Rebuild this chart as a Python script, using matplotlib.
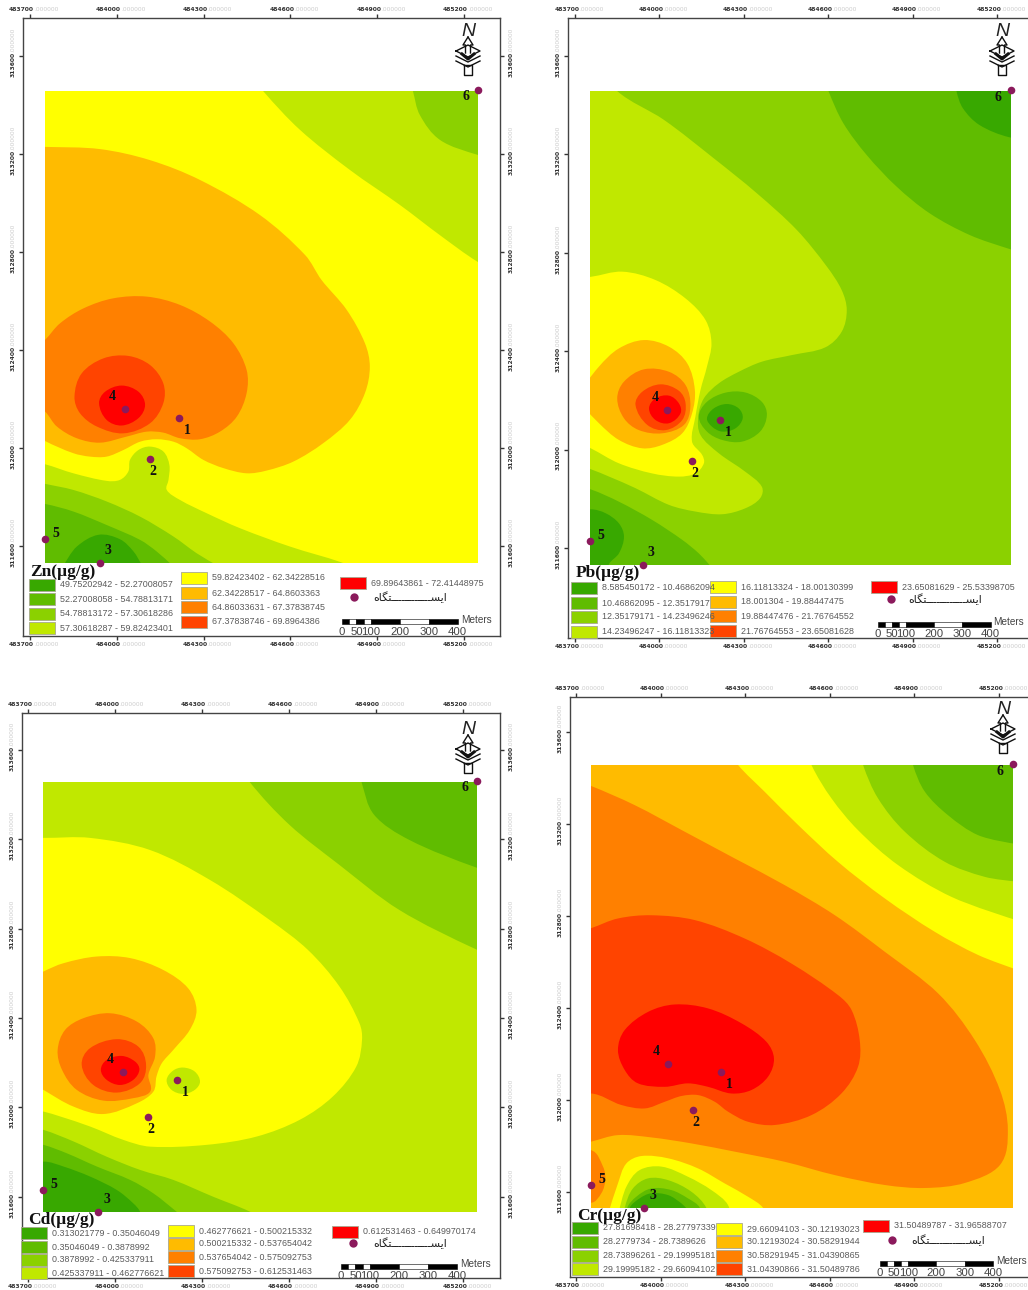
import math
import matplotlib
matplotlib.use('Agg')
import matplotlib.pyplot as plt
from matplotlib.patches import PathPatch, Rectangle
from matplotlib.path import Path
from matplotlib.lines import Line2D

W, H = 1028, 1290

# class colours, lowest to highest
class_colors = ['#38A800', '#60BC00', '#8BD100', '#C0E800', '#FFFF00',
                '#FFBB00', '#FF8000', '#FF4400', '#FF0000']

# interpolated area (UTM metres)
east_min, east_max = 483752, 485249
north_min, north_max = 311531, 313457

# out-of-area points used to close the class polygons
SW = (483650, 311430)
SE = (485350, 311430)
NE = (485350, 313560)
NW = (483650, 313560)

station_ids = ['1', '2', '3', '4', '5', '6']
station_east = [484215, 484115, 483942, 484028, 483752, 485249]
station_north = [312122, 311955, 311531, 312159, 311629, 313461]
station_offset = [(6, -9), (2, -9), (6, 9), (-9, 9), (8, 4), (-9, -5)]

x_ticks = [483700, 484000, 484300, 484600, 484900, 485200]
y_ticks = [311600, 312000, 312400, 312800, 313200, 313600]
scale_marks = [0, 25, 50, 75, 100, 200, 300, 400]
scale_labels = [0, 50, 100, 200, 300, 400]
station_word = '\uFEE9\uFE8E\uFB95\uFE98' + '\u0640' * 12 + '\uFEB4\uFBFE\uFE8D'

zn_labels = ['49.75202942 - 52.27008057', '52.27008058 - 54.78813171', '54.78813172 - 57.30618286',
             '57.30618287 - 59.82423401', '59.82423402 - 62.34228516', '62.34228517 - 64.8603363',
             '64.86033631 - 67.37838745', '67.37838746 - 69.8964386', '69.89643861 - 72.41448975']
pb_labels = ['8.585450172 - 10.46862094', '10.46862095 - 12.3517917', '12.35179171 - 14.23496246',
             '14.23496247 - 16.11813323', '16.11813324 - 18.00130399', '18.001304 - 19.88447475',
             '19.88447476 - 21.76764552', '21.76764553 - 23.65081628', '23.65081629 - 25.53398705']
cd_labels = ['0.313021779 - 0.35046049', '0.35046049 - 0.3878992', '0.3878992 - 0.425337911',
             '0.425337911 - 0.462776621', '0.462776621 - 0.500215332', '0.500215332 - 0.537654042',
             '0.537654042 - 0.575092753', '0.575092753 - 0.612531463', '0.612531463 - 0.649970174']
cr_labels = ['27.81698418 - 28.27797339', '28.2779734 - 28.7389626', '28.73896261 - 29.19995181',
             '29.19995182 - 29.66094102', '29.66094103 - 30.12193023', '30.12193024 - 30.58291944',
             '30.58291945 - 31.04390865', '31.04390866 - 31.50489786', '31.50489787 - 31.96588707']

# class boundaries: (class index, [(east, north), ...]), painted in order
zn_base = 4
zn_bands = [
    (3, [(484440, 313560), (484506, 313457), (484634, 313298), (484806, 313135), (484979, 312992),
         (485117, 312869), (485249, 312759), (485350, 312700), NE]),
    (2, [(485000, 313560), (485024, 313457), (485048, 313359), (485118, 313257), (485249, 313196),
         (485350, 313170), NE]),
    (3, [(483650, 311960), (483752, 311934), (483850, 311897), (483965, 311866), (484011, 311870),
         (484040, 311904), (484046, 311952), (484075, 311992), (484115, 312006), (484161, 311986),
         (484182, 311931), (484179, 311870), (484173, 311829), (484219, 311788), (484311, 311734),
         (484426, 311673), (484599, 311598), (484778, 311533), (484860, 311490), (484860, 311430), SW]),
    (2, [(483650, 311880), (483752, 311854), (483850, 311829), (483965, 311782), (484081, 311720),
         (484196, 311639), (484276, 311571), (484334, 311530), (484400, 311480), (484400, 311430), SW]),
    (1, [(483650, 311790), (483752, 311772), (483850, 311741), (483965, 311686), (484081, 311625),
         (484138, 311578), (484184, 311530), (484230, 311480), (484230, 311430), SW]),
    (0, [(483800, 311430), (483821, 311530), (483862, 311598), (483937, 311646), (484011, 311628),
         (484058, 311578), (484083, 311530), (484110, 311430)]),
    (5, [(483650, 313230), (483752, 313229), (483942, 313220), (484115, 313175), (484288, 313094),
         (484495, 312951), (484651, 312788), (484708, 312686), (484795, 312564), (484858, 312428),
         (484875, 312332), (484858, 312224), (484806, 312115), (484714, 312020), (484611, 311945),
         (484518, 311908), (484449, 311897), (484369, 311918), (484299, 311952), (484242, 311999),
         (484196, 312026), (484138, 312036), (484081, 312026), (484023, 311992), (483965, 311965),
         (483908, 311965), (483850, 311979), (483752, 312029), (483650, 312100)]),
    (6, [(483650, 312330), (483752, 312441), (483804, 312509), (483885, 312570), (483988, 312611),
         (484104, 312618), (484219, 312584), (484323, 312516), (484403, 312428), (484449, 312319),
         (484449, 312224), (484415, 312128), (484357, 312067), (484288, 312036), (484219, 312040),
         (484161, 312063), (484104, 312067), (484035, 312047), (483942, 312022), (483862, 312040),
         (483793, 312088), (483752, 312149), (483650, 312240)]),
    (7, [(483854, 312210), (483879, 312305), (483954, 312366), (484040, 312376), (484115, 312339),
         (484161, 312264), (484161, 312183), (484115, 312101), (484023, 312060), (483931, 312088),
         (483873, 312142)]),
    (8, [(483939, 312183), (483960, 312230), (484017, 312255), (484075, 312230), (484098, 312176),
         (484075, 312122), (484017, 312092), (483965, 312115)]),
]

pb_base = 2
pb_bands = [
    (1, [(484570, 313560), (484601, 313457), (484654, 313326), (484737, 313197), (484843, 313069),
         (484961, 312960), (485103, 312872), (485245, 312815), (485350, 312780), NE]),
    (0, [(485040, 313560), (485056, 313457), (485079, 313387), (485138, 313319), (485245, 313269),
         (485350, 313260), NE]),
    (3, [(483800, 313560), (483850, 313457), (484016, 313340), (484193, 313184), (484346, 313042),
         (484488, 312893), (484595, 312744), (484648, 312648), (484666, 312567), (484648, 312479),
         (484589, 312415), (484471, 312384), (484364, 312357), (484282, 312316), (484211, 312269),
         (484158, 312208), (484138, 312134), (484146, 312059), (484211, 311985), (484305, 311910),
         (484364, 311849), (484358, 311802), (484305, 311761), (484223, 311737), (484128, 311748),
         (484034, 311775), (483915, 311843), (483821, 311890), (483756, 311920), (483650, 311960), NW]),
    (1, [(483650, 311870), (483756, 311838), (483856, 311788), (483974, 311714), (484081, 311633),
         (484140, 311578), (484175, 311535), (484220, 311480), (484220, 311430), SW]),
    (0, [(483650, 311740), (483756, 311757), (483809, 311741), (483856, 311700), (483874, 311646),
         (483856, 311578), (483821, 311535), (483790, 311430), SW]),
    (1, [(484140, 312134), (484169, 312194), (484234, 312231), (484305, 312232), (484364, 312194),
         (484382, 312140), (484358, 312073), (484293, 312032), (484223, 312039), (484169, 312073)]),
    (0, [(484169, 312127), (484193, 312167), (484240, 312185), (484282, 312167), (484296, 312127),
         (484270, 312086), (484223, 312073), (484187, 312093)]),
    (4, [(483650, 312690), (483756, 312702), (483868, 312723), (483986, 312689), (484093, 312614),
         (484164, 312526), (484185, 312432), (484169, 312337), (484146, 312242), (484128, 312134),
         (484116, 312032), (484152, 311978), (484158, 311944), (484128, 311903), (484069, 311890),
         (483974, 311903), (483856, 311944), (483756, 312005), (483650, 312060)]),
    (5, [(483700, 312210), (483785, 312337), (483856, 312411), (483945, 312445), (484034, 312418),
         (484099, 312350), (484126, 312242), (484116, 312147), (484081, 312066), (484010, 312019),
         (483939, 312005), (483856, 312039), (483785, 312107)]),
    (6, [(483850, 312208), (483874, 312276), (483945, 312326), (484034, 312316), (484093, 312262),
         (484110, 312174), (484087, 312100), (484010, 312066), (483927, 312079), (483874, 312127)]),
    (7, [(483915, 312181), (483939, 312235), (484004, 312265), (484069, 312239), (484093, 312188),
         (484081, 312120), (484022, 312079), (483957, 312100)]),
    (8, [(483963, 312167), (483986, 312208), (484034, 312219), (484069, 312188), (484075, 312147),
         (484034, 312107), (483986, 312120)]),
]

cd_base = 3
cd_bands = [
    (2, [(484420, 313560), (484464, 313457), (484602, 313264), (484774, 313085), (484980, 312884),
         (485249, 312705), (485350, 312660), NE]),
    (1, [(484830, 313560), (484850, 313457), (484894, 313309), (485015, 313197), (485249, 313072),
         (485350, 313040), NE]),
    (4, [(483650, 313210), (483752, 313206), (483914, 313206), (484120, 313152), (484327, 313018),
         (484533, 312839), (484665, 312705), (484774, 312541), (484843, 312377), (484852, 312302),
         (484832, 312182), (484751, 312048), (484637, 311944), (484488, 311869), (484316, 311832),
         (484121, 311824), (484029, 311854), (483914, 311914), (483811, 311959), (483753, 311981),
         (483650, 312010)]),
    (3, [(484178, 312123), (484201, 312165), (484235, 312178), (484275, 312160), (484293, 312115),
         (484275, 312078), (484235, 312060), (484195, 312078)]),
    (2, [(483650, 311930), (483753, 311899), (483857, 311847), (483971, 311779), (484086, 311720),
         (484201, 311675), (484338, 311600), (484465, 311533), (484530, 311480), (484530, 311430), SW]),
    (1, [(483650, 311860), (483753, 311832), (483834, 311794), (483937, 311735), (484052, 311675),
         (484132, 311615), (484212, 311533), (484260, 311480), (484260, 311430), SW]),
    (0, [(483650, 311730), (483753, 311757), (483822, 311735), (483914, 311690), (484006, 311630),
         (484063, 311570), (484086, 311533), (484110, 311430), SW]),
    (5, [(483650, 312540), (483753, 312608), (483822, 312645), (483937, 312675), (484052, 312668),
         (484166, 312615), (484252, 312533), (484281, 312436), (484258, 312347), (484201, 312257),
         (484161, 312197), (484143, 312138), (484132, 312070), (484075, 312018), (483960, 311970),
         (483857, 312003), (483753, 312078), (483650, 312160)]),
    (6, [(483802, 312257), (483828, 312347), (483891, 312399), (483983, 312421), (484075, 312384),
         (484132, 312309), (484138, 312227), (484115, 312145), (484121, 312070), (484063, 312041),
         (483960, 312030), (483868, 312078), (483817, 312168)]),
    (7, [(483885, 312190), (483914, 312265), (484006, 312305), (484080, 312272), (484107, 312190),
         (484086, 312108), (484006, 312066), (483925, 312100)]),
    (8, [(483951, 312168), (483971, 312212), (484023, 312230), (484069, 312205), (484084, 312168),
         (484063, 312123), (484017, 312100), (483971, 312123)]),
]

cr_base = 5
cr_bands = [
    (4, [(484220, 313560), (484275, 313457), (484369, 313341), (484488, 313196), (484629, 313036),
         (484795, 312877), (484972, 312732), (485126, 312631), (485250, 312573), (485350, 312540), NE]),
    (3, [(484510, 313560), (484535, 313457), (484606, 313312), (484700, 313174), (484842, 313022),
         (485031, 312884), (485250, 312787), (485350, 312750), NE]),
    (2, [(484700, 313560), (484718, 313457), (484771, 313312), (484866, 313167), (485008, 313036),
         (485149, 312971), (485250, 312952), (485350, 312940), NE]),
    (1, [(484880, 313560), (484895, 313457), (484937, 313341), (485019, 313239), (485126, 313152),
         (485250, 313116), (485350, 313100), NE]),
    (6, [(483650, 313410), (483752, 313367), (483908, 313283), (484086, 313167), (484263, 313051),
         (484440, 312935), (484618, 312804), (484795, 312645), (484984, 312464), (485114, 312261),
         (485203, 312044), (485231, 311870), (485203, 311718), (485079, 311640), (484937, 311618),
         (484795, 311631), (484618, 311674), (484440, 311732), (484263, 311776), (484109, 311812),
         (483967, 311838), (483849, 311848), (483752, 311819), (483650, 311790)]),
    (7, [(483650, 312710), (483752, 312747), (483849, 312790), (483967, 312804), (484121, 312783),
         (484298, 312703), (484464, 312594), (484629, 312457), (484677, 312392), (484706, 312261),
         (484700, 312145), (484641, 312029), (484535, 311935), (484405, 311892), (484310, 311906),
         (484239, 311950), (484192, 311993), (484133, 312022), (484074, 312018), (484015, 311993),
         (483944, 311964), (483861, 311979), (483752, 312029), (483650, 311990)]),
    (8, [(483849, 312218), (483873, 312305), (483956, 312384), (484050, 312416), (484168, 312399),
         (484287, 312334), (484375, 312254), (484402, 312181), (484381, 312102), (484322, 312044),
         (484251, 312029), (484168, 312058), (484097, 312073), (484015, 312058), (483920, 312073),
         (483873, 312131)]),
    (6, [(483700, 311740), (483752, 311783), (483796, 311711), (483804, 311653), (483790, 311595),
         (483752, 311554), (483700, 311600)]),
    (4, [(483790, 311430), (483820, 311529), (483849, 311638), (483879, 311725), (483932, 311757),
         (484027, 311747), (484133, 311703), (484227, 311638), (484310, 311580), (484363, 311532),
         (484400, 311430)]),
    (3, [(483830, 311430), (483855, 311529), (483879, 311624), (483926, 311696), (484003, 311711),
         (484097, 311667), (484180, 311609), (484239, 311544), (484260, 311430)]),
    (2, [(483860, 311430), (483873, 311532), (483902, 311616), (483956, 311660), (484027, 311652),
         (484109, 311602), (484162, 311532), (484180, 311430)]),
    (1, [(483870, 311430), (483882, 311532), (483914, 311580), (483967, 311616), (484038, 311609),
         (484097, 311573), (484139, 311532), (484150, 311430)]),
    (0, [(483880, 311430), (483891, 311532), (483926, 311573), (483967, 311595), (484027, 311587),
         (484074, 311551), (484092, 311529), (484100, 311430)]),
]

fig = plt.figure(figsize=(W / 100, H / 100), dpi=100, facecolor='white')


def fx(px):
    return px / W


def fy(py):
    return 1 - py / H


def outside(p):
    return not (east_min <= p[0] <= east_max and north_min <= p[1] <= north_max)


def smooth_path(pts):
    # closed spline through the boundary, tangents scaled by segment length,
    # square corners at the points outside the area
    n = len(pts)
    dirs = []
    for i in range(n):
        if outside(pts[i]):
            dirs.append((0, 0))
        else:
            a, b = pts[i - 1], pts[(i + 1) % n]
            d = math.hypot(b[0] - a[0], b[1] - a[1]) or 1
            dirs.append(((b[0] - a[0]) / d, (b[1] - a[1]) / d))
    verts = [pts[0]]
    codes = [Path.MOVETO]
    for i in range(n):
        j = (i + 1) % n
        seg = math.hypot(pts[j][0] - pts[i][0], pts[j][1] - pts[i][1]) / 3
        verts += [(pts[i][0] + dirs[i][0] * seg, pts[i][1] + dirs[i][1] * seg),
                  (pts[j][0] - dirs[j][0] * seg, pts[j][1] - dirs[j][1] * seg), pts[j]]
        codes += [Path.CURVE4] * 3
    return Path(verts, codes)


def north_arrow(cx, top):
    fig.text(fx(cx), fy(top + 14), 'N', fontsize=14, style='italic', family='Liberation Sans',
             ha='center', va='center', color='#222')
    def line(xs, ys, lw=1.0):
        fig.add_artist(Line2D([fx(cx + x) for x in xs], [fy(top + y) for y in ys], color='#111', lw=lw))
    line([0, -5, -2.5, -2.5], [19, 27, 27, 35])
    line([0, 5, 2.5, 2.5], [19, 27, 27, 35])
    line([-12, 0, 12, 0, -12], [33, 27, 33, 39, 33])
    line([-12, 0, 12], [38, 44, 38])
    line([-12, 0, 12], [43, 49, 43])
    line([-6, 0, 6], [36, 41, 36], lw=2.2)
    line([-4, -4, 4, 4, -4], [47, 57, 57, 47, 47])


def draw_panel(frame, lims, name, base, bands, labels, legend):
    left, top, right, bottom = frame
    ax = fig.add_axes([fx(left), fy(bottom), (right - left) / W, (bottom - top) / H])
    ax.set_xlim(lims[0], lims[1])
    ax.set_ylim(lims[2], lims[3])
    area = Rectangle((east_min, north_min), east_max - east_min, north_max - north_min,
                     facecolor=class_colors[base], edgecolor='none', zorder=1)
    ax.add_patch(area)
    for z, (cls, pts) in enumerate(bands):
        band = PathPatch(smooth_path(pts), facecolor=class_colors[cls], edgecolor='none', zorder=2 + z * 0.01)
        ax.add_patch(band)
        band.set_clip_path(area)

    ax.scatter(station_east, station_north, s=30, color='#8B1A5C', zorder=5, clip_on=False, linewidths=0)
    for sid, e, n, off in zip(station_ids, station_east, station_north, station_offset):
        ax.annotate(sid, (e, n), xytext=off, textcoords='offset points', ha='center', va='center',
                    fontsize=10, fontweight='bold', family='Liberation Serif', color='#111', zorder=6,
                    annotation_clip=False)

    # map grid ticks on all four sides; the right side of some maps runs off the page
    ax.set_xticks(x_ticks)
    ax.set_yticks(y_ticks)
    ax.set_xticklabels([])
    ax.set_yticklabels([])
    ax.tick_params(top=True, right=True, length=3, width=1, color='#333')
    for side in ax.spines:
        ax.spines[side].set_color('#444')
        ax.spines[side].set_linewidth(1)
    num = dict(fontsize=4.3, fontweight='bold', color='#333', annotation_clip=False)
    pale = dict(fontsize=4.3, color='#cccccc', annotation_clip=False)
    for e in x_ticks:
        for frac, dy in ((1, 6), (0, -6)):
            ax.annotate(str(e), (e, frac), xycoords=('data', 'axes fraction'), xytext=(3, dy),
                        textcoords='offset points', ha='right', va='center', **num)
            ax.annotate('.000000', (e, frac), xycoords=('data', 'axes fraction'), xytext=(3, dy),
                        textcoords='offset points', ha='left', va='center', **pale)
    sides = ((0, -7), (1, 8)) if right < W else ((0, -7),)
    for n in y_ticks:
        for frac, dx in sides:
            ax.annotate(str(n), (frac, n), xycoords=('axes fraction', 'data'), xytext=(dx, 3),
                        textcoords='offset points', ha='center', va='top', rotation=90, **num)
            ax.annotate('.000000', (frac, n), xycoords=('axes fraction', 'data'), xytext=(dx, 3),
                        textcoords='offset points', ha='center', va='bottom', rotation=90, **pale)

    # legend, station key and scale bar sit in figure pixels
    fig.text(fx(legend['title'][0]), fy(legend['title'][1]), name, fontsize=12.5, fontweight='bold',
             family='Liberation Serif', color='#111', va='center', ha='left', zorder=7)
    rows = [(legend['col1'][0], y) for y in legend['col1'][1]] + [(legend['col2'][0], y) for y in legend['col2'][1]] \
        + [legend['col3']]
    for i, (x, y) in enumerate(rows):
        fig.add_artist(Rectangle((fx(x), fy(y + 6)), 26 / W, 12 / H, transform=fig.transFigure,
                                 facecolor=class_colors[i], edgecolor='#a8a890', lw=0.6))
        fig.text(fx(x + 31), fy(y), labels[i], fontsize=6.4, color='#5a5a5a', family='Liberation Sans',
                 va='center', ha='left')
    mx, my, wx = legend['key']
    fig.add_artist(Line2D([fx(mx)], [fy(my)], marker='o', ms=6, color='#8B1A5C', mew=0, transform=fig.transFigure))
    fig.text(fx(wx), fy(my), station_word, fontsize=8, color='#222', family='DejaVu Sans', va='center', ha='left')

    sx, sy = legend['scale']
    per_m = (frame[2] - frame[0]) / (lims[1] - lims[0])
    for i in range(len(scale_marks) - 1):
        x0 = sx + scale_marks[i] * per_m
        fig.add_artist(Rectangle((fx(x0), fy(sy + 2.5)), (scale_marks[i + 1] - scale_marks[i]) * per_m / W, 5 / H,
                                 transform=fig.transFigure, lw=0.4, edgecolor='black',
                                 facecolor='black' if i % 2 == 0 else 'white'))
    for m in scale_labels:
        fig.text(fx(sx + m * per_m), fy(sy + 10), str(m), fontsize=8.2, color='#444', family='Liberation Sans',
                 ha='center', va='center')
    fig.text(fx(sx + 400 * per_m + 3), fy(sy - 2), 'Meters', fontsize=7.2, color='#444', family='Liberation Sans',
             ha='left', va='center')
    north_arrow(legend['north'][0], legend['north'][1])


draw_panel((23, 18, 500, 636), (483676, 485325, 311233, 313755), 'Zn(\u00b5g/g)', zn_base, zn_bands, zn_labels,
           {'title': (30, 572), 'col1': (29, [584.5, 599, 614, 628.5]), 'col2': (181, [578, 593, 607, 622]),
            'col3': (340, 583), 'key': (354, 597, 373), 'scale': (342, 622), 'north': (468, 18)})
draw_panel((568, 18, 1040, 638), (483675, 485353, 311234, 313754), 'Pb(\u00b5g/g)', pb_base, pb_bands, pb_labels,
           {'title': (576, 573), 'col1': (571, [588, 603, 617, 632]), 'col2': (710, [587, 602, 616, 631]),
            'col3': (871, 587), 'key': (891, 599, 908), 'scale': (878, 624), 'north': (1002, 18)})
draw_panel((22, 713, 500, 1278), (483679, 485328, 311236, 313765), 'Cd(\u00b5g/g)', cd_base, cd_bands, cd_labels,
           {'title': (28, 1220), 'col1': (21, [1233, 1247, 1260, 1273]), 'col2': (168, [1231, 1244, 1257, 1271]),
            'col3': (332, 1232), 'key': (353, 1243, 373), 'scale': (341, 1266), 'north': (468, 716)})
draw_panel((570, 697, 1040, 1277), (483679, 485345, 311231, 313753), 'Cr(\u00b5g/g)', cr_base, cr_bands, cr_labels,
           {'title': (577, 1216), 'col1': (572, [1228, 1242, 1256, 1269]), 'col2': (716, [1229, 1242, 1256, 1269]),
            'col3': (863, 1226), 'key': (892, 1240, 911), 'scale': (880, 1263), 'north': (1003, 696)})

fig.savefig('out.png', dpi=100)
